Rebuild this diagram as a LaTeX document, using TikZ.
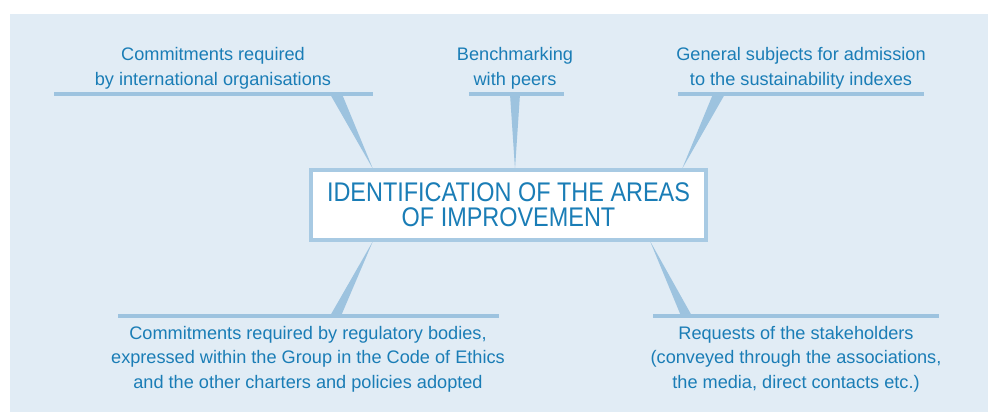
\documentclass[tikz,border=0pt]{standalone}
\usepackage{fontspec}
\setmainfont{Liberation Sans}
\newfontfamily\headfont{Liberation Sans}[FakeStretch=0.87]
\usetikzlibrary{positioning}

\definecolor{paleblue}{HTML}{E1ECF5}
\definecolor{lineblue}{HTML}{9DC3DF}
\definecolor{textblue}{HTML}{1A7DB6}
\definecolor{boxblue}{HTML}{A8CAE3}

\begin{document}
\begin{tikzpicture}[x=0.03cm, y=-0.03cm,
    source/.style={align=center, text=textblue, inner sep=0pt, font=\fontsize{15.5}{21}\selectfont},
    rule/.style={draw=lineblue, line width=2.6pt},
    wedge/.style={fill=lineblue},
    areabox/.style={draw=boxblue, line width=2.8pt, fill=white, align=center, text=textblue,
        minimum width=11.85cm, minimum height=2.1cm, inner sep=0pt,
        font=\headfont\fontsize{23}{21.5}\selectfont}]
    \useasboundingbox (0,0) rectangle (988,412);
    \fill[paleblue] (10,14) rectangle (988,412);

    % sources
    \node[source] (intl) at (213,68) {Commitments required\\by international organisations};
    \node[source] (peers) at (515,68) {Benchmarking\\with peers};
    \node[source] (index) at (801,68) {General subjects for admission\\to the sustainability indexes};
    \node[source] (regul) at (308,359) {Commitments required by regulatory bodies,\\expressed within the Group in the Code of Ethics\\and the other charters and policies adopted};
    \node[source] (stake) at (796,359) {Requests of the stakeholders\\(conveyed through the associations,\\the media, direct contacts etc.)};

    % underlines
    \coordinate (intlL) at (54,94);   \coordinate (intlR) at (373,94);
    \coordinate (peersL) at (469,94); \coordinate (peersR) at (564,94);
    \coordinate (indexL) at (678,94); \coordinate (indexR) at (924,94);
    \coordinate (regulL) at (118,316); \coordinate (regulR) at (499,316);
    \coordinate (stakeL) at (653,316); \coordinate (stakeR) at (939,316);
    \draw[rule] (intlL) -- (intlR);
    \draw[rule] (peersL) -- (peersR);
    \draw[rule] (indexL) -- (indexR);
    \draw[rule] (regulL) -- (regulR);
    \draw[rule] (stakeL) -- (stakeR);

    % wedges towards the box
    \coordinate (tipA) at (373,169);
    \coordinate (tipB) at (515,169);
    \coordinate (tipC) at (682,169);
    \coordinate (tipD) at (373,241);
    \coordinate (tipE) at (650,241);
    \fill[wedge] (330,94) -- (342,94) -- (tipA) -- cycle;
    \fill[wedge] (510,94) -- (520,94) -- (tipB) -- cycle;
    \fill[wedge] (713,94) -- (725,94) -- (tipC) -- cycle;
    \fill[wedge] (330,316) -- (341,316) -- (tipD) -- cycle;
    \fill[wedge] (681,316) -- (692,316) -- (tipE) -- cycle;

    \node[areabox] (areas) at (508.5,205) {IDENTIFICATION OF THE AREAS\\OF IMPROVEMENT};
\end{tikzpicture}
\end{document}
